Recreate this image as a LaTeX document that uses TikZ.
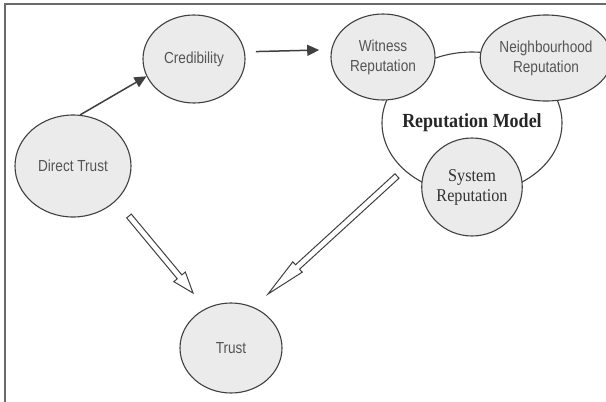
\documentclass[tikz,border=0pt]{standalone}
\usepackage{fontspec}
\setmainfont{Liberation Serif}[FakeStretch=0.9]
\setsansfont{Liberation Sans}[FakeStretch=0.85]
\usetikzlibrary{shapes.geometric,arrows.meta,calc}
\definecolor{linec}{HTML}{404040}
\definecolor{fillc}{HTML}{EBEBEB}
\definecolor{txtc}{HTML}{555555}
\definecolor{framec}{HTML}{6A6A6A}
\tikzset{
  bubble/.style={ellipse, draw=linec, line width=1.1pt, fill=fillc, inner sep=0pt, align=center,
     text=txtc, font=\sffamily\fontsize{16}{20}\selectfont},
  serifbubble/.style={bubble, text=black!80, font=\rmfamily\fontsize{18}{20}\selectfont},
  solidarrow/.style={draw=linec, line width=1.5pt, -{Triangle[length=12pt,width=11pt]}},
  hollow/.style={draw=linec, line width=1pt, fill=white, line join=miter}
}
\newcommand\hollowarrow[5]{%
  \path (#2) coordinate (ha-tip) ($(#2)!#3!(#1)$) coordinate (ha-base);
  \draw[hollow] ($(#1)!#4!90:(#2)$) -- ($(ha-base)!#4!90:(ha-tip)$) -- ($(ha-base)!#5!90:(ha-tip)$)
     -- (ha-tip) -- ($(ha-base)!#5!-90:(ha-tip)$) -- ($(ha-base)!#4!-90:(ha-tip)$)
     -- ($(#1)!#4!-90:(#2)$) -- cycle;}
\begin{document}
\begin{tikzpicture}[x=1pt,y=-1pt]
\useasboundingbox (0,0) rectangle (606,402);
\fill[white] (0,0) rectangle (606,402);
\draw[framec, line width=2pt] (5,402) -- (5,4) -- (606,4);

% reputation model big ellipse
\node[ellipse, draw=linec, line width=1.1pt, inner sep=0pt, minimum width=180pt, minimum height=142pt] (rm) at (472,123) {};
\node[font=\rmfamily\bfseries\fontsize{20}{22}\selectfont, text=black!85, inner sep=0pt] (rmlabel) at (rm.center) {Reputation Model};

\node[bubble, minimum width=102pt, minimum height=88pt] (cred) at (194,59) {Credibility};
\node[bubble, minimum width=116pt, minimum height=102pt] (dt) at (73,166) {Direct Trust};
\node[bubble, minimum width=104pt, minimum height=86pt] (wit) at (383,57) {Witness\\Reputation};
\node[bubble, minimum width=102pt, minimum height=86pt] (nb) at (546,58) {Neighbourhood\\Reputation};
\node[serifbubble, minimum width=100pt, minimum height=98pt] (sys) at (472,187) {System\\Reputation};
\node[bubble, minimum width=102pt, minimum height=90pt] (trust) at (231,348) {Trust};

\draw[solidarrow] (dt.82) -- (cred.200);
\draw[solidarrow, shorten <=11pt, shorten >=12pt] (cred.8) -- (wit.172);

\coordinate (a1s) at (129,216);
\coordinate (a1t) at (193,293);
\coordinate (a2s) at (397,176);
\coordinate (a2t) at (268,294);
\hollowarrow{a1s}{a1t}{21pt}{3pt}{7.5pt}
\hollowarrow{a2s}{a2t}{40pt}{3pt}{7pt}
\end{tikzpicture}
\end{document}
